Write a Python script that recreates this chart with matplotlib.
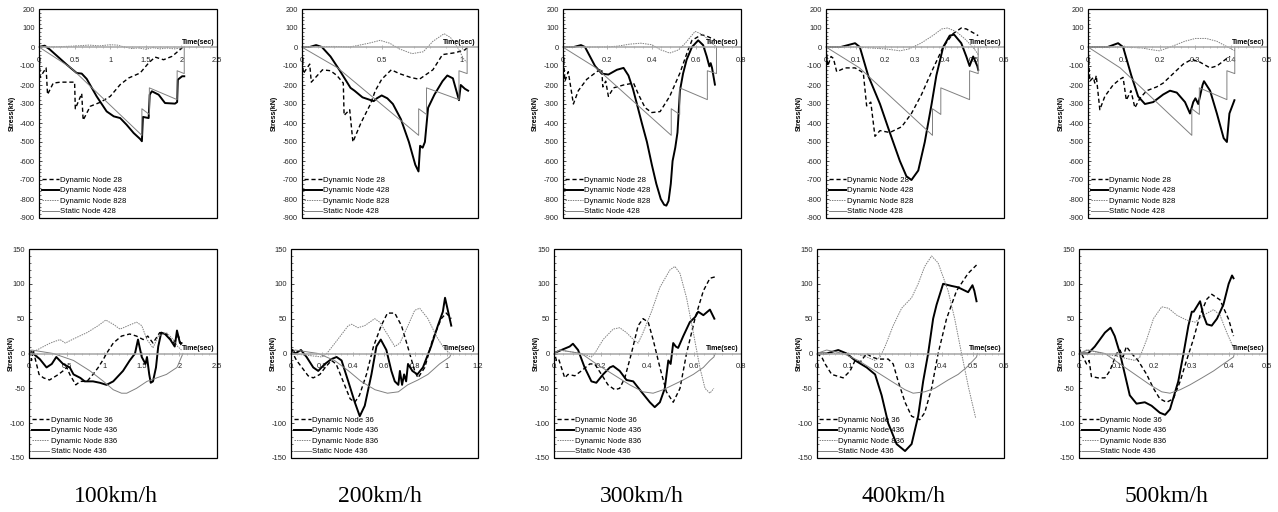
import matplotlib
matplotlib.use('Agg')
import matplotlib.pyplot as plt
from matplotlib.patches import Rectangle
from matplotlib.ticker import MultipleLocator, AutoMinorLocator, FuncFormatter

plt.rcParams['axes.unicode_minus'] = False

SPEEDS = ['100km/h', '200km/h', '300km/h', '400km/h', '500km/h']
TOP_LABELS = ['Dynamic Node 28', 'Dynamic Node 428', 'Dynamic Node 828', 'Static Node 428']
BOT_LABELS = ['Dynamic Node 36', 'Dynamic Node 436', 'Dynamic Node 836', 'Static Node 436']

TOP_XMAX = [2.5, 1.1, 0.8, 0.6, 0.5]
TOP_XSTEP = [0.5, 0.5, 0.2, 0.1, 0.1]
BOT_XMAX = [2.5, 1.2, 0.8, 0.6, 0.5]
BOT_XSTEP = [0.5, 0.2, 0.2, 0.1, 0.1]

# ---------------- top row: nodes 28 / 428 / 828 ----------------
# 100 km/h
N28_100_T = [0, 0.015, 0.1, 0.12, 0.2, 0.3, 0.5, 0.51, 0.6, 0.62, 0.72, 0.86, 1.0, 1.14, 1.26, 1.42, 1.54, 1.63, 1.75, 1.87, 1.98, 2.03]
N28_100_S = [0, -160, -110, -250, -190, -185, -185, -325, -245, -385, -312, -291, -260, -198, -163, -137, -84, -53, -67, -49, -14, 3]
N428_100_T = [0, 0.08, 0.155, 0.39, 0.53, 0.6, 0.67, 0.81, 0.95, 1.05, 1.14, 1.23, 1.33, 1.42, 1.445, 1.46, 1.54, 1.555, 1.585, 1.68, 1.77, 1.91, 1.94, 1.95, 2.01, 2.04]
N428_100_S = [0, 7, -14, -93, -137, -140, -168, -260, -339, -365, -374, -409, -453, -484, -496, -368, -374, -251, -233, -251, -295, -298, -290, -172, -154, -154]
N828_100_T = [0, 0.3, 0.5, 0.7, 0.85, 1.0, 1.1, 1.2, 1.3, 1.4, 1.5, 1.6, 1.7, 1.8, 1.9, 2.0, 2.05]
N828_100_S = [0, 2, 5, 10, 6, 12, 10, 0, -8, -5, -12, -3, -10, -5, -10, -5, 0]
ST428_100_T = [0, 0.45, 1.445, 1.445, 1.55, 1.55, 1.94, 1.94, 2.04, 2.04]
ST428_100_S = [0, -110, -465, -325, -355, -215, -277, -125, -140, 0]

# 200 km/h
N28_200_T = [0, 0.01, 0.05, 0.06, 0.13, 0.18, 0.22, 0.26, 0.265, 0.3, 0.32, 0.37, 0.43, 0.46, 0.5, 0.56, 0.61, 0.68, 0.735, 0.82, 0.88, 0.96, 1.02, 1.04]
N28_200_S = [0, -140, -90, -185, -120, -125, -150, -190, -360, -330, -500, -400, -300, -230, -170, -120, -140, -160, -170, -120, -40, -30, -15, 0]
N428_200_T = [0, 0.05, 0.09, 0.126, 0.18, 0.235, 0.305, 0.33, 0.38, 0.45, 0.47, 0.5, 0.535, 0.57, 0.62, 0.67, 0.71, 0.73, 0.74, 0.756, 0.77, 0.79, 0.83, 0.88, 0.91, 0.945, 0.983, 0.994, 1.02, 1.04]
N428_200_S = [0, 0, 10, 0, -50, -120, -215, -230, -265, -285, -270, -255, -270, -300, -380, -500, -620, -655, -520, -530, -500, -320, -250, -180, -150, -165, -280, -200, -220, -230]
N828_200_T = [0, 0.2, 0.3, 0.35, 0.42, 0.49, 0.55, 0.61, 0.69, 0.76, 0.82, 0.89, 0.93, 0.98, 1.01, 1.03]
N828_200_S = [0, 3, 0, 8, 20, 35, 20, -10, -35, -25, 30, 70, 50, -10, -60, -80]
ST428_200_T = [0, 0.225, 0.731, 0.731, 0.78, 0.78, 0.983, 0.983, 1.034, 1.034]
ST428_200_S = [0, -110, -465, -325, -355, -215, -277, -125, -140, 0]

# 300 km/h
N28_300_T = [0, 0.01, 0.025, 0.048, 0.07, 0.108, 0.153, 0.175, 0.18, 0.193, 0.205, 0.228, 0.273, 0.318, 0.34, 0.37, 0.40, 0.437, 0.48, 0.526, 0.563, 0.58, 0.623, 0.65, 0.683]
N28_300_S = [0, -180, -130, -300, -230, -170, -130, -115, -210, -180, -260, -215, -200, -190, -250, -320, -345, -340, -260, -137, -14, 35, 65, 55, 38]
N428_300_T = [0, 0.05, 0.082, 0.1, 0.145, 0.175, 0.205, 0.243, 0.273, 0.295, 0.315, 0.333, 0.355, 0.378, 0.4, 0.42, 0.44, 0.455, 0.465, 0.475, 0.485, 0.493, 0.505, 0.515, 0.52, 0.526, 0.54, 0.556, 0.58, 0.608, 0.63, 0.646, 0.658, 0.664, 0.67, 0.683]
N428_300_S = [0, 0, 10, 0, -100, -140, -145, -120, -110, -150, -220, -300, -400, -500, -620, -720, -800, -830, -835, -810, -720, -600, -530, -450, -350, -230, -140, -67, 0, 35, 10, -49, -102, -85, -110, -198]
N828_300_T = [0, 0.2, 0.25, 0.3, 0.35, 0.4, 0.44, 0.48, 0.52, 0.55, 0.594, 0.63, 0.66, 0.69]
N828_300_S = [0, 0, 5, 15, 20, 12, -15, -32, -15, 20, 82, 65, 30, 0]
ST428_300_T = [0, 0.15, 0.487, 0.487, 0.525, 0.525, 0.649, 0.649, 0.69, 0.69]
ST428_300_S = [0, -110, -465, -325, -355, -215, -277, -125, -140, 0]

# 400 km/h
N28_400_T = [0, 0.006, 0.017, 0.025, 0.036, 0.064, 0.098, 0.12, 0.126, 0.137, 0.151, 0.165, 0.182, 0.215, 0.255, 0.288, 0.322, 0.356, 0.395, 0.428, 0.456, 0.473, 0.513]
N28_400_S = [0, -100, -50, -60, -130, -110, -110, -130, -140, -310, -290, -470, -440, -450, -420, -350, -250, -130, 0, 70, 100, 95, 60]
N428_400_T = [0, 0.05, 0.098, 0.114, 0.142, 0.182, 0.215, 0.249, 0.271, 0.288, 0.311, 0.333, 0.356, 0.372, 0.395, 0.417, 0.432, 0.456, 0.473, 0.484, 0.496, 0.51, 0.513]
N428_400_S = [0, 0, 20, 0, -150, -300, -450, -600, -680, -700, -650, -500, -300, -150, 0, 60, 65, 20, -50, -100, -50, -100, -120]
N828_400_T = [0, 0.1, 0.15, 0.2, 0.25, 0.28, 0.32, 0.36, 0.39, 0.41, 0.44, 0.47, 0.5, 0.513]
N828_400_S = [0, 0, -5, -10, -20, -10, 20, 60, 95, 100, 80, 40, -10, -40]
ST428_400_T = [0, 0.113, 0.359, 0.359, 0.387, 0.387, 0.484, 0.484, 0.513, 0.513]
ST428_400_S = [0, -110, -465, -325, -355, -215, -277, -125, -140, 0]

# 500 km/h
N28_500_T = [0, 0.005, 0.015, 0.019, 0.023, 0.033, 0.047, 0.07, 0.089, 0.098, 0.107, 0.12, 0.131, 0.145, 0.164, 0.192, 0.21, 0.238, 0.266, 0.29, 0.313, 0.341, 0.36, 0.388, 0.397]
N28_500_S = [0, -180, -160, -190, -150, -330, -260, -200, -170, -160, -280, -230, -320, -270, -230, -210, -190, -140, -90, -65, -80, -110, -100, -60, -50]
N428_500_T = [0, 0.055, 0.084, 0.098, 0.121, 0.14, 0.159, 0.182, 0.21, 0.229, 0.248, 0.271, 0.285, 0.294, 0.30, 0.308, 0.32, 0.324, 0.341, 0.36, 0.379, 0.388, 0.395, 0.405, 0.409]
N428_500_S = [0, 0, 20, 0, -150, -260, -300, -290, -250, -230, -240, -290, -350, -290, -270, -300, -200, -180, -230, -350, -480, -500, -350, -300, -280]
N828_500_T = [0, 0.1, 0.15, 0.18, 0.2, 0.23, 0.27, 0.3, 0.33, 0.36, 0.39, 0.41]
N828_500_S = [0, 0, -5, -15, -20, 0, 30, 45, 45, 30, 0, -20]
ST428_500_T = [0, 0.09, 0.29, 0.29, 0.311, 0.311, 0.388, 0.388, 0.41, 0.41]
ST428_500_S = [0, -110, -465, -325, -355, -215, -277, -125, -140, 0]

# ---------------- bottom row: nodes 36 / 436 / 836 ----------------
# 100 km/h
N36_100_T = [0, 0.03, 0.05, 0.13, 0.19, 0.27, 0.39, 0.45, 0.5, 0.54, 0.62, 0.68, 0.77, 0.85, 0.92, 0.99, 1.03, 1.12, 1.23, 1.34, 1.43, 1.52, 1.58, 1.65, 1.74, 1.83, 1.92, 1.99, 2.03]
N36_100_S = [3, -10, 5, -30, -35, -38, -30, -25, -20, -30, -45, -40, -40, -30, -20, -8, 0, 15, 25, 28, 25, 20, 25, 15, 30, 28, 15, 25, 10]
N436_100_T = [0, 0.02, 0.05, 0.14, 0.23, 0.3, 0.36, 0.45, 0.54, 0.59, 0.68, 0.74, 0.85, 0.94, 1.03, 1.12, 1.25, 1.34, 1.41, 1.45, 1.5, 1.55, 1.57, 1.6, 1.62, 1.65, 1.69, 1.72, 1.76, 1.81, 1.88, 1.94, 1.97, 2.01, 2.03]
N436_100_S = [0, 3, 0, -8, -20, -15, -5, -15, -20, -30, -35, -40, -40, -42, -45, -40, -25, -10, 0, 20, -5, -15, -5, -30, -42, -40, -20, 10, 30, 28, 20, 10, 33, 15, 15]
N836_100_T = [0, 0.1, 0.28, 0.41, 0.48, 0.61, 0.77, 0.92, 1.02, 1.12, 1.21, 1.32, 1.43, 1.5, 1.57, 1.65, 1.72, 1.83, 1.92, 1.98, 2.03]
N836_100_S = [0, 5, 15, 20, 15, 22, 30, 40, 48, 42, 35, 40, 45, 40, 20, 8, 25, 30, 20, 10, 5]
ST436_100_T = [0, 0.03, 0.32, 0.59, 0.81, 0.99, 1.12, 1.23, 1.3, 1.43, 1.57, 1.7, 1.83, 1.97, 2.03, 2.05]
ST436_100_S = [0, 5, 0, -10, -25, -40, -52, -57, -57, -50, -40, -35, -30, -20, -5, 0]

# 200 km/h
N36_200_T = [0, 0.036, 0.07, 0.11, 0.143, 0.186, 0.22, 0.26, 0.29, 0.335, 0.38, 0.41, 0.44, 0.485, 0.53, 0.58, 0.62, 0.667, 0.71, 0.75, 0.795, 0.816, 0.86, 0.91, 0.966, 0.998, 1.03]
N36_200_S = [5, -10, -20, -32, -35, -30, -20, -10, -15, -40, -65, -70, -60, -30, 10, 40, 58, 58, 40, 10, -25, -35, -20, 20, 50, 58, 50]
N436_200_T = [0, 0.01, 0.026, 0.064, 0.1, 0.143, 0.175, 0.218, 0.26, 0.293, 0.325, 0.368, 0.41, 0.442, 0.474, 0.517, 0.549, 0.577, 0.613, 0.645, 0.667, 0.69, 0.70, 0.714, 0.727, 0.74, 0.752, 0.78, 0.812, 0.848, 0.9, 0.944, 0.976, 0.99, 1.01, 1.03]
N436_200_S = [0, 5, 0, 5, -5, -20, -25, -15, -8, -5, -10, -40, -70, -90, -75, -30, 10, 20, 5, -25, -40, -45, -25, -45, -30, -40, -15, -25, -30, -20, 10, 40, 60, 80, 60, 40]
N836_200_T = [0, 0.2, 0.23, 0.3, 0.368, 0.39, 0.43, 0.474, 0.538, 0.57, 0.613, 0.667, 0.7, 0.752, 0.795, 0.827, 0.88, 0.934, 0.976, 1.02]
N836_200_S = [0, -5, 0, 20, 40, 42, 37, 40, 50, 45, 30, 10, 15, 40, 62, 65, 50, 25, 10, 0]
ST436_200_T = [0, 0.026, 0.175, 0.28, 0.37, 0.45, 0.54, 0.62, 0.69, 0.75, 0.816, 0.88, 0.955, 1.02, 1.03]
ST436_200_S = [0, 5, 0, -10, -25, -40, -52, -57, -55, -45, -38, -30, -15, -5, 0]

# 300 km/h
N36_300_T = [0, 0.01, 0.02, 0.046, 0.06, 0.089, 0.117, 0.153, 0.174, 0.203, 0.231, 0.26, 0.281, 0.303, 0.331, 0.36, 0.381, 0.403, 0.424, 0.453, 0.481, 0.51, 0.539, 0.567, 0.603, 0.639, 0.667, 0.689]
N36_300_S = [5, -10, -8, -35, -30, -32, -25, -15, -15, -30, -45, -52, -50, -35, 0, 40, 50, 45, 20, -20, -55, -70, -50, 0, 50, 90, 108, 110]
N436_300_T = [0, 0.01, 0.067, 0.081, 0.103, 0.131, 0.16, 0.181, 0.21, 0.239, 0.253, 0.281, 0.31, 0.339, 0.374, 0.41, 0.431, 0.453, 0.474, 0.489, 0.499, 0.51, 0.521, 0.531, 0.553, 0.581, 0.603, 0.617, 0.639, 0.667, 0.686]
N436_300_S = [0, 2, 10, 14, 5, -20, -40, -42, -30, -20, -18, -25, -38, -40, -55, -70, -77, -70, -50, -10, -15, 15, 10, 8, 25, 45, 52, 60, 55, 63, 50]
N836_300_T = [0, 0.024, 0.117, 0.16, 0.174, 0.21, 0.253, 0.281, 0.31, 0.346, 0.36, 0.381, 0.417, 0.453, 0.496, 0.517, 0.539, 0.567, 0.596, 0.624, 0.646, 0.667, 0.684]
N836_300_S = [0, 5, 0, -5, 0, 20, 35, 37, 30, 18, 15, 30, 60, 95, 120, 125, 115, 80, 30, -20, -50, -57, -50]
ST436_300_T = [0, 0.024, 0.117, 0.181, 0.253, 0.324, 0.381, 0.424, 0.467, 0.51, 0.553, 0.596, 0.639, 0.667, 0.684, 0.69]
ST436_300_S = [0, 5, 0, -15, -30, -45, -55, -57, -52, -45, -38, -30, -20, -10, -5, 0]

# 400 km/h
N36_400_T = [0, 0.016, 0.027, 0.048, 0.085, 0.107, 0.123, 0.14, 0.16, 0.176, 0.197, 0.229, 0.245, 0.261, 0.283, 0.304, 0.33, 0.346, 0.368, 0.389, 0.416, 0.448, 0.485, 0.512]
N36_400_S = [0, -5, -15, -30, -35, -25, -10, -12, 0, -5, -8, -8, -15, -40, -70, -90, -95, -85, -50, 0, 50, 90, 115, 127]
N436_400_T = [0, 0.032, 0.069, 0.096, 0.123, 0.16, 0.187, 0.208, 0.229, 0.256, 0.283, 0.304, 0.325, 0.341, 0.357, 0.373, 0.384, 0.405, 0.432, 0.453, 0.485, 0.499, 0.505, 0.512]
N436_400_S = [0, 0, 5, 0, -10, -20, -30, -60, -100, -130, -140, -130, -90, -40, 0, 50, 70, 100, 97, 95, 88, 98, 90, 75]
N836_400_T = [0, 0.123, 0.16, 0.187, 0.203, 0.219, 0.245, 0.272, 0.304, 0.325, 0.346, 0.368, 0.389, 0.421, 0.442, 0.464, 0.487, 0.509]
N836_400_S = [0, 0, -5, -10, -5, 10, 40, 65, 80, 100, 125, 140, 130, 90, 50, 0, -50, -92]
ST436_400_T = [0, 0.032, 0.085, 0.133, 0.187, 0.24, 0.283, 0.309, 0.346, 0.378, 0.421, 0.453, 0.48, 0.512, 0.515]
ST436_400_S = [0, 5, 0, -10, -25, -40, -52, -57, -55, -50, -38, -30, -20, -5, 0]

# 500 km/h
N36_500_T = [0, 0.011, 0.02, 0.027, 0.033, 0.051, 0.069, 0.082, 0.1, 0.109, 0.117, 0.126, 0.14, 0.157, 0.18, 0.198, 0.215, 0.233, 0.251, 0.269, 0.286, 0.304, 0.322, 0.34, 0.353, 0.375, 0.398, 0.411]
N36_500_S = [8, -5, -15, -10, -33, -35, -35, -25, 0, 5, -5, 10, 0, -10, -30, -50, -65, -70, -65, -40, -10, 20, 55, 78, 85, 77, 49, 25]
N436_500_T = [0, 0.024, 0.042, 0.069, 0.084, 0.095, 0.109, 0.122, 0.135, 0.153, 0.175, 0.193, 0.215, 0.229, 0.242, 0.264, 0.278, 0.291, 0.3, 0.305, 0.322, 0.331, 0.34, 0.353, 0.367, 0.384, 0.398, 0.407, 0.411]
N436_500_S = [0, 0, 10, 30, 37, 25, 0, -30, -60, -72, -70, -75, -85, -88, -80, -40, 0, 40, 60, 60, 75, 55, 42, 40, 50, 70, 100, 112, 108]
N836_500_T = [0, 0.02, 0.064, 0.109, 0.149, 0.162, 0.18, 0.198, 0.22, 0.238, 0.26, 0.286, 0.309, 0.331, 0.358, 0.375, 0.393, 0.411]
N836_500_S = [0, 5, 0, -5, -10, -5, 20, 50, 67, 65, 55, 48, 45, 55, 63, 55, 30, 8]
ST436_500_T = [0, 0.024, 0.069, 0.109, 0.149, 0.189, 0.22, 0.242, 0.269, 0.295, 0.327, 0.358, 0.384, 0.411, 0.413]
ST436_500_S = [0, 5, 0, -15, -30, -45, -55, -57, -52, -45, -35, -25, -15, -5, 0]

TOP_SERIES = [
    [(N28_100_T, N28_100_S), (N428_100_T, N428_100_S), (N828_100_T, N828_100_S), (ST428_100_T, ST428_100_S)],
    [(N28_200_T, N28_200_S), (N428_200_T, N428_200_S), (N828_200_T, N828_200_S), (ST428_200_T, ST428_200_S)],
    [(N28_300_T, N28_300_S), (N428_300_T, N428_300_S), (N828_300_T, N828_300_S), (ST428_300_T, ST428_300_S)],
    [(N28_400_T, N28_400_S), (N428_400_T, N428_400_S), (N828_400_T, N828_400_S), (ST428_400_T, ST428_400_S)],
    [(N28_500_T, N28_500_S), (N428_500_T, N428_500_S), (N828_500_T, N828_500_S), (ST428_500_T, ST428_500_S)],
]
BOT_SERIES = [
    [(N36_100_T, N36_100_S), (N436_100_T, N436_100_S), (N836_100_T, N836_100_S), (ST436_100_T, ST436_100_S)],
    [(N36_200_T, N36_200_S), (N436_200_T, N436_200_S), (N836_200_T, N836_200_S), (ST436_200_T, ST436_200_S)],
    [(N36_300_T, N36_300_S), (N436_300_T, N436_300_S), (N836_300_T, N836_300_S), (ST436_300_T, ST436_300_S)],
    [(N36_400_T, N36_400_S), (N436_400_T, N436_400_S), (N836_400_T, N836_400_S), (ST436_400_T, ST436_400_S)],
    [(N36_500_T, N36_500_S), (N436_500_T, N436_500_S), (N836_500_T, N836_500_S), (ST436_500_T, ST436_500_S)],
]

# line looks: dashed black, thick black, dotted gray, thin gray
STYLES = [
    dict(color='black', lw=1.0, ls=(0, (3, 2))),
    dict(color='black', lw=1.4, ls='-'),
    dict(color='#808080', lw=0.7, ls=(0, (1.5, 1))),
    dict(color='#808080', lw=0.7, ls='-'),
]

# pixel layout of the plot boxes
W, H = 1278, 512
TOP_BOX_X = [(39, 217), (301.7, 477.7), (562.7, 741), (826, 1004), (1088, 1267)]
BOT_BOX_X = [(29.3, 216.7), (291, 477.7), (554, 741), (816.7, 1004), (1079, 1267)]
TOP_BOX_Y = (9, 218)
BOT_BOX_Y = (249, 458)
CAPTION_X = [116, 380, 642, 904, 1166]

TICK_FONT = ['Liberation Sans Narrow', 'Liberation Sans', 'DejaVu Sans']
TEXT_FONT = ['Liberation Sans', 'DejaVu Sans']

fmt = FuncFormatter(lambda v, p: f"{v:g}")

fig = plt.figure(figsize=(W / 100, H / 100), dpi=100)


def draw_panel(box_x, box_y, xmax, xstep, ylim, ystep, series, labels, ylab_px):
    x0, x1 = box_x
    y0, y1 = box_y
    ax = fig.add_axes([x0 / W, 1 - y1 / H, (x1 - x0) / W, (y1 - y0) / H])
    for (t, s), st, lab in zip(series, STYLES, labels):
        ax.plot(t, s, label=lab, **st)
    ax.set_xlim(0, xmax)
    ax.set_ylim(*ylim)

    # plot-area border + gray zero axis
    for side in ['top', 'left', 'right']:
        ax.spines[side].set_visible(False)
    ax.spines['bottom'].set_position(('data', 0))
    ax.spines['bottom'].set_color('#a6a6a6')
    ax.spines['bottom'].set_linewidth(1.1)
    ax.add_patch(Rectangle((0, 0), 1, 1, transform=ax.transAxes, fill=False,
                           ec='black', lw=0.9, clip_on=False, zorder=5))

    ax.xaxis.set_major_locator(MultipleLocator(xstep))
    ax.xaxis.set_minor_locator(AutoMinorLocator(5))
    ax.yaxis.set_major_locator(MultipleLocator(ystep))
    ax.yaxis.set_minor_locator(AutoMinorLocator(5))
    ax.xaxis.set_major_formatter(fmt)
    ax.yaxis.set_major_formatter(fmt)
    ax.tick_params(axis='x', which='major', direction='inout', length=3, width=0.6,
                   color='#a6a6a6', labelsize=5.4, pad=5.5)
    ax.tick_params(axis='x', which='minor', direction='inout', length=1.8, width=0.5, color='#a6a6a6')
    ax.tick_params(axis='y', which='major', direction='in', length=2.5, width=0.5, labelsize=5.4, pad=3)
    ax.tick_params(axis='y', which='minor', direction='in', length=1.5, width=0.4)
    for lbl in ax.get_xticklabels() + ax.get_yticklabels():
        lbl.set_family(TICK_FONT)
        lbl.set_color('#262626')

    ax.set_ylabel('Stress(kN)', fontsize=5.0, fontweight='bold', family=TEXT_FONT)
    ax.yaxis.set_label_coords(ylab_px / (x1 - x0), 0.5)
    ax.annotate('Time(sec)', xy=(1, 0), xycoords=('axes fraction', 'data'),
                xytext=(-1.5, 1), textcoords='offset points', ha='right', va='bottom',
                fontsize=5.0, fontweight='bold', family=TEXT_FONT)

    ax.legend(loc='lower left', frameon=False, prop={'family': TEXT_FONT, 'size': 5.6},
              handlelength=2.2, handletextpad=0.2, labelspacing=0.38,
              borderaxespad=0.1, borderpad=0.25)
    return ax


for i in range(5):
    draw_panel(TOP_BOX_X[i], TOP_BOX_Y, TOP_XMAX[i], TOP_XSTEP[i], (-900, 200), 100,
               TOP_SERIES[i], TOP_LABELS, -23.5)
    draw_panel(BOT_BOX_X[i], BOT_BOX_Y, BOT_XMAX[i], BOT_XSTEP[i], (-150, 150), 50,
               BOT_SERIES[i], BOT_LABELS, -14)
    fig.text(CAPTION_X[i] / W, 1 - 497 / H, SPEEDS[i], ha='center', va='center',
             family=['Liberation Serif', 'DejaVu Serif'], fontsize=17)

fig.savefig('out.png', dpi=100)
